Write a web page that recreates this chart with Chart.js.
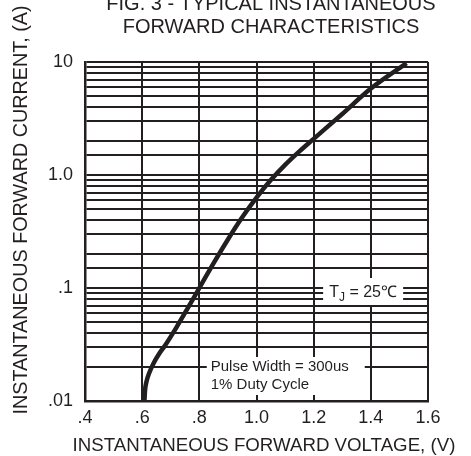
<!DOCTYPE html>
<html>
<head>
<meta charset="utf-8">
<script src="https://cdn.jsdelivr.net/npm/chart.js@4.4.1/dist/chart.umd.min.js"></script>
<style>
  html, body { margin: 0; padding: 0; background: #fff; }
  #wrap { width: 471px; height: 456px; }
</style>
</head>
<body>
<div id="wrap"><canvas id="out" width="471" height="456"></canvas></div>
<script>
// forward voltage (V) vs forward current (A)
const voltage = [0.608, 0.610, 0.615, 0.625, 0.640, 0.660, 0.680, 0.720, 0.760, 0.800, 0.850, 0.900, 0.950, 1.000, 1.050, 1.100, 1.150, 1.200, 1.300, 1.400, 1.525];
const current = [0.0100, 0.0124, 0.0148, 0.0178, 0.0216, 0.0263, 0.0310, 0.0449, 0.0667, 0.100, 0.166, 0.269, 0.422, 0.631, 0.902, 1.23, 1.62, 2.09, 3.47, 5.82, 9.77];

const xTicks = [0.4, 0.6, 0.8, 1.0, 1.2, 1.4, 1.6];
const xTickLabels = [".4", ".6", ".8", "1.0", "1.2", "1.4", "1.6"];
const yDecades = [0.01, 0.1, 1, 10];
const yDecadeLabels = [".01", ".1", "1.0", "10"];

const titleLines = ["FIG. 3 - TYPICAL INSTANTANEOUS", "FORWARD CHARACTERISTICS"];
const xTitle = "INSTANTANEOUS FORWARD VOLTAGE, (V)";
const yTitle = "INSTANTANEOUS FORWARD CURRENT, (A)";
const noteTemp = ["T", "J", " = 25\u2103"];
const notePulse = ["Pulse Width = 300us", "1% Duty Cycle"];

const INK = "#231f20";
const FONT = "'Liberation Sans', Arial, sans-serif";

const points = voltage.map((v, i) => ({ x: v, y: current[i] }));

function decadeLabel(v) {
  for (let i = 0; i < yDecades.length; i++) {
    if (Math.abs(v - yDecades[i]) / yDecades[i] < 1e-6) return yDecadeLabels[i];
  }
  return "";
}

// titles and the two boxed notes
const textPlugin = {
  id: "texts",
  beforeDatasetsDraw(chart) {
    const ctx = chart.ctx;
    const xs = chart.scales.x, ys = chart.scales.y;
    ctx.save();
    ctx.fillStyle = INK;

    // T_J note on the .1 line
    let cx = xs.getPixelForValue(1.373);
    let cy = ys.getPixelForValue(0.1);
    ctx.fillStyle = "#fff";
    ctx.fillRect(cx - 40, cy - 10, 80, 27);
    ctx.fillStyle = INK;
    ctx.textBaseline = "alphabetic";
    ctx.font = "16px " + FONT;
    const w0 = ctx.measureText(noteTemp[0]).width;
    ctx.font = "12px " + FONT;
    const w1 = ctx.measureText(noteTemp[1]).width;
    ctx.font = "16px " + FONT;
    const w2 = ctx.measureText(noteTemp[2]).width;
    let tx = cx - (w0 + w1 + w2) / 2;
    ctx.textAlign = "left";
    ctx.fillText(noteTemp[0], tx, cy + 9);
    ctx.font = "12px " + FONT;
    ctx.fillText(noteTemp[1], tx + w0, cy + 13);
    ctx.font = "16px " + FONT;
    ctx.fillText(noteTemp[2], tx + w0 + w1, cy + 9);

    // pulse note on the .02 line
    const lx = xs.getPixelForValue(0.84);
    const ly = ys.getPixelForValue(0.02);
    ctx.fillStyle = "#fff";
    ctx.fillRect(lx - 4, ly - 10, 158, 38);
    ctx.fillStyle = INK;
    ctx.font = "15px " + FONT;
    ctx.textBaseline = "middle";
    ctx.fillText(notePulse[0], lx, ly);
    ctx.fillText(notePulse[1], lx, ly + 18);
    ctx.restore();
  },
  afterDraw(chart) {
    const ctx = chart.ctx;
    ctx.save();
    ctx.fillStyle = INK;
    ctx.textAlign = "center";
    ctx.textBaseline = "alphabetic";
    ctx.font = "20px " + FONT;
    ctx.fillText(titleLines[0], 271, 10);
    ctx.fillText(titleLines[1], 271, 33);

    ctx.font = "18.7px " + FONT;
    ctx.textBaseline = "middle";
    ctx.fillText(xTitle, 264, 446);

    ctx.font = "19.8px " + FONT;
    ctx.translate(22, 210);
    ctx.rotate(-Math.PI / 2);
    ctx.fillText(yTitle, 0, 0);
    ctx.restore();
  }
};

new Chart(document.getElementById("out").getContext("2d"), {
  type: "line",
  data: {
    datasets: [{
      data: points,
      borderColor: INK,
      borderWidth: 4.5,
      pointRadius: 0,
      cubicInterpolationMode: "monotone",
      fill: false
    }]
  },
  options: {
    responsive: false,
    animation: false,
    layout: { padding: { top: 62, right: 43, left: 0, bottom: 0 } },
    plugins: { legend: { display: false }, tooltip: { enabled: false }, title: { display: false } },
    scales: {
      x: {
        type: "linear",
        min: 0.4,
        max: 1.6,
        afterBuildTicks(scale) { scale.ticks = xTicks.map(v => ({ value: v })); },
        afterFit(scale) { scale.height = 55; },
        ticks: {
          autoSkip: false,
          maxRotation: 0,
          padding: 6,
          color: INK,
          font: { family: FONT, size: 18 },
          callback: (v) => xTickLabels[xTicks.findIndex(t => Math.abs(t - v) < 1e-6)]
        },
        grid: { color: INK, lineWidth: 2, drawTicks: false },
        border: { color: INK, width: 2.5 }
      },
      y: {
        type: "logarithmic",
        min: 0.01,
        max: 10,
        afterFit(scale) { scale.width = 85; },
        ticks: {
          autoSkip: false,
          padding: 12,
          color: INK,
          font: { family: FONT, size: 18 },
          callback: (v) => decadeLabel(v)
        },
        grid: { color: INK, lineWidth: 2, drawTicks: false },
        border: { color: INK, width: 2.5 }
      }
    }
  },
  plugins: [textPlugin]
});
</script>
</body>
</html>
